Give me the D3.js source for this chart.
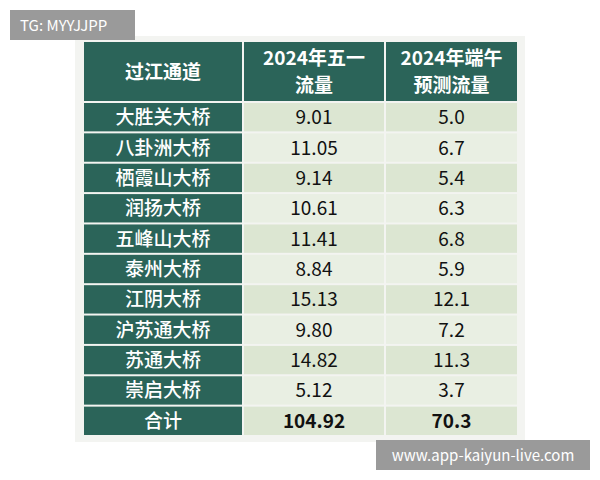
<!DOCTYPE html>
<html><head><meta charset="utf-8">
<script src="https://cdn.jsdelivr.net/npm/d3@7"></script>
<style>body{margin:0;background:#fff}</style>
</head><body>
<svg id="c" width="600" height="480"></svg>
<script>
const headers = [["过江通道"], ["2024年五一", "流量"], ["2024年端午", "预测流量"]];
const bridges = ["大胜关大桥","八卦洲大桥","栖霞山大桥","润扬大桥","五峰山大桥","泰州大桥","江阴大桥","沪苏通大桥","苏通大桥","崇启大桥","合计"];
const mayDay = ["9.01","11.05","9.14","10.61","11.41","8.84","15.13","9.80","14.82","5.12","104.92"];
const dragonBoat = ["5.0","6.7","5.4","6.3","6.8","5.9","12.1","7.2","11.3","3.7","70.3"];

const svg = d3.select("#c");
const font = "'Noto Sans CJK SC', sans-serif";
svg.append("rect").attr("x",75).attr("y",36).attr("width",450).attr("height",406).attr("fill","#f3f4f1");
const colEdges = [83,243,385,518];
const x = d3.scaleOrdinal().domain([0,1,2]).range(colEdges.slice(0,3));
const headerTop = 42, headerBottom = 103, tableBottom = 437;
const y = d3.scaleBand().domain(d3.range(bridges.length)).range([headerBottom, tableBottom]);
const dark = "#2b6459", gap = 2;

headers.forEach((h,i)=>{
  const x0 = colEdges[i], w = colEdges[i+1]-x0;
  svg.append("rect").attr("x",x0+gap/2).attr("y",headerTop).attr("width",w-gap).attr("height",headerBottom-headerTop-gap).attr("fill",dark);
  const cy = (headerTop+headerBottom-gap)/2;
  h.forEach((line,j)=>{
    svg.append("text").attr("x",x0+w/2).attr("y",cy+(j-(h.length-1)/2)*27+7)
      .attr("text-anchor","middle").attr("fill","#fff").attr("font-family",font)
      .attr("font-weight","bold").attr("font-size",19).text(line);
  });
});

bridges.forEach((b,r)=>{
  const y0 = y(r), h = y.bandwidth();
  const last = r===bridges.length-1;
  const vals = [b, mayDay[r], dragonBoat[r]];
  vals.forEach((v,i)=>{
    const x0 = colEdges[i], w = colEdges[i+1]-x0;
    svg.append("rect").attr("x",x0+gap/2).attr("y",y0).attr("width",w-gap).attr("height",h-gap)
      .attr("fill", i===0 ? dark : (r%2===0 ? "#dce6d2" : "#e9efe3"));
    svg.append("text").attr("x",x0+w/2).attr("y",y0+(h-gap)/2+7)
      .attr("text-anchor","middle").attr("fill", i===0?"#fff":"#111")
      .attr("font-family",font).attr("font-size",19)
      .attr("font-weight", (last && i>0) ? "bold" : (i===0?"500":"normal")).text(v);
  });
});

// watermarks
svg.append("rect").attr("x",10).attr("y",10).attr("width",125).attr("height",30).attr("fill","#9a9a9a");
svg.append("text").attr("x",20).attr("y",31).attr("fill","#fff").attr("font-family",font).attr("font-size",15).text("TG: MYYJJPP");
svg.append("rect").attr("x",376).attr("y",440).attr("width",214).attr("height",30).attr("fill","#9a9a9a");
svg.append("text").attr("x",483).attr("y",461).attr("text-anchor","middle").attr("fill","#fff").attr("font-family",font).attr("font-size",15).text("www.app-kaiyun-live.com");
</script>
</body></html>
